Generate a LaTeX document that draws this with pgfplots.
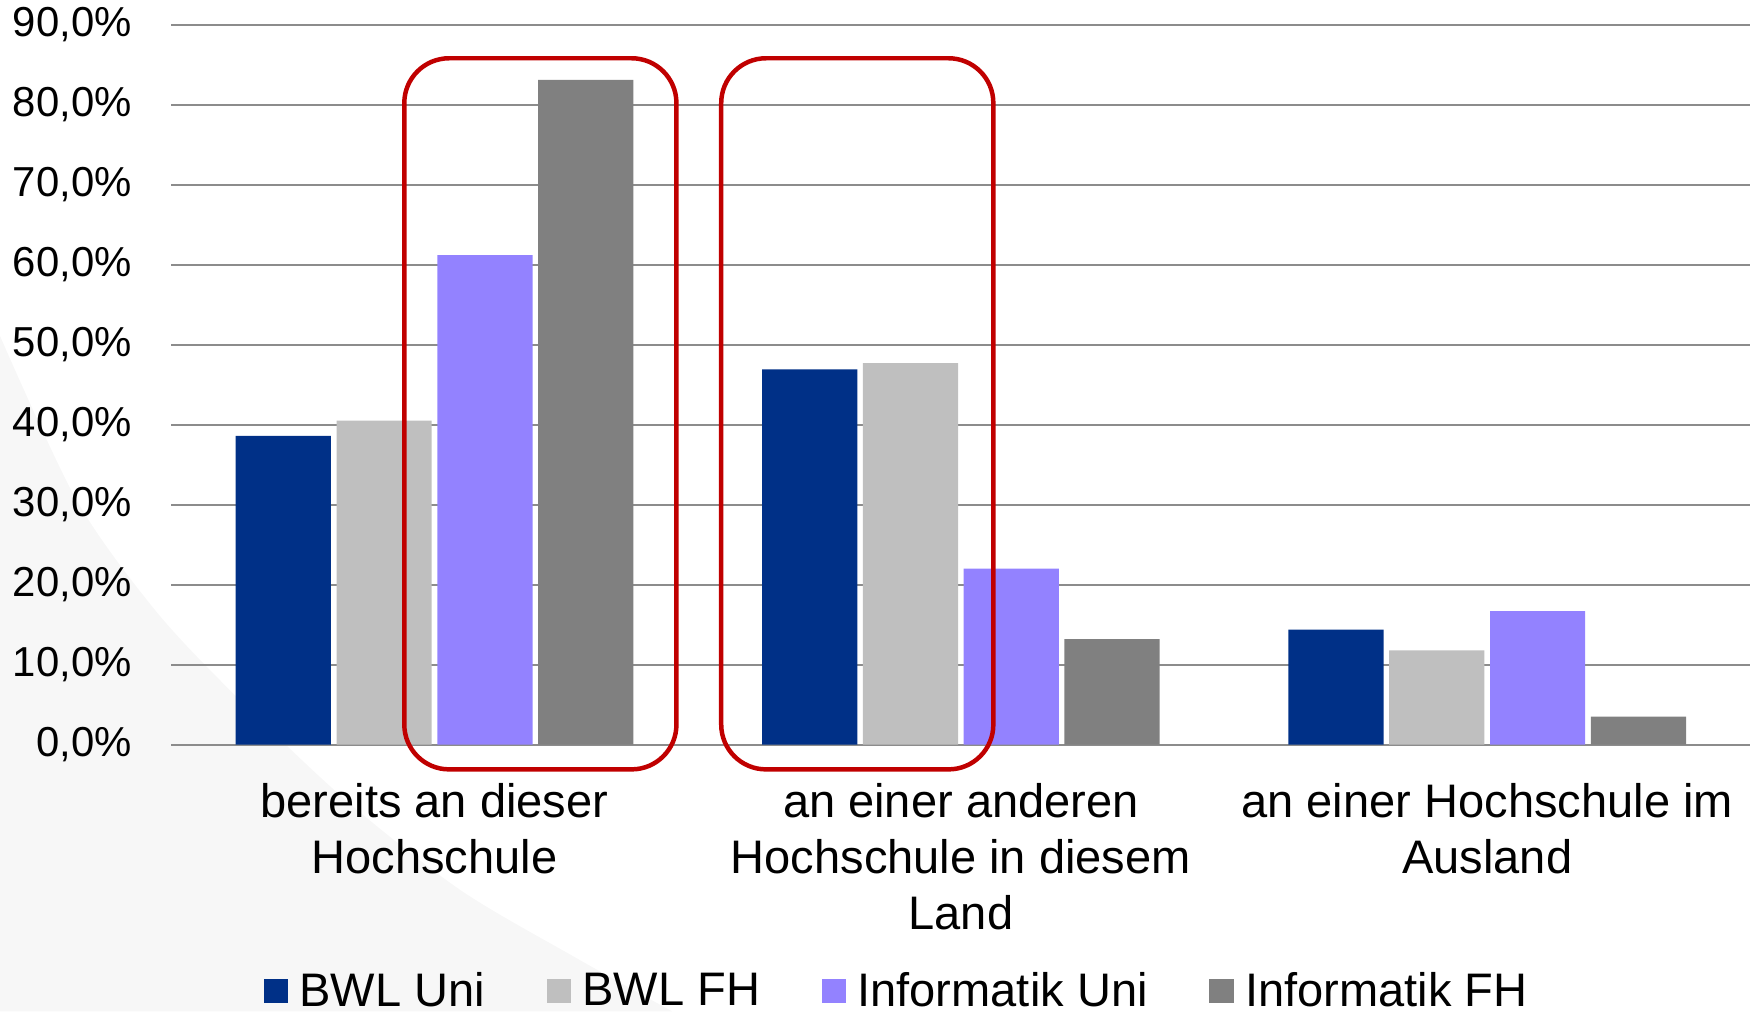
\documentclass[border=0pt]{standalone}
\usepackage{pgfplots}
\pgfplotsset{compat=1.18}
\usepackage{fontspec}
\setmainfont{Liberation Sans}
\definecolor{bwluni}{HTML}{003087}
\definecolor{bwlfh}{HTML}{BFBFBF}
\definecolor{infuni}{HTML}{9382FF}
\definecolor{inffh}{HTML}{808080}
\definecolor{gridgray}{HTML}{8C8C8C}
\definecolor{hilite}{HTML}{C00000}
\definecolor{bggray}{HTML}{F7F7F7}

\begin{document}
\begin{tikzpicture}
\useasboundingbox (-76.5pt,-119pt) rectangle (707.5pt,332.5pt);
% faint slide background in the lower left corner
\fill[bggray] plot[smooth] coordinates {(-76.5pt,182.5pt) (-42.5pt,109.5pt) (-8pt,61pt) (26pt,24.5pt)
  (77pt,-24pt) (128.5pt,-64.5pt) (179.5pt,-94.5pt) (223.5pt,-119pt)} -- (-76.5pt,-119pt) -- cycle;
\begin{axis}[
    scale only axis,
    width=705pt, height=321.5pt,
    ybar=2.5pt, bar width=42.5pt,
    xmin=-0.5, xmax=2.5, ymin=0, ymax=90,
    enlargelimits=false,
    xtick={0,1,2},
    xticklabels={bereits an dieser\\Hochschule, an einer anderen\\Hochschule in diesem\\Land, an einer Hochschule im\\Ausland},
    xticklabel style={font=\fontsize{21}{25}\selectfont, align=center, anchor=north, inner sep=0pt, yshift=-17pt},
    ytick={0,10,...,90},
    yticklabel={\pgfmathprintnumber[fixed, fixed zerofill, precision=1, use comma, assume math mode=true]{\tick}\%},
    yticklabel style={font=\fontsize{18.7}{22}\selectfont, anchor=east, inner sep=0pt, xshift=-17.5pt},
    ymajorgrids,
    grid style={gridgray, line width=1pt},
    axis line style={draw=none},
    major tick length=0pt,
    clip=false,
    legend columns=4,
    legend image code/.code={\fill[#1] (0pt,-5.5pt) rectangle (11pt,5.5pt);},
    legend style={
        at={(0.460,-0.342)}, anchor=center,
        draw=none, fill=none, inner sep=0pt,
        font=\fontsize{21}{25}\selectfont,
        cells={anchor=west, inner sep=0pt},
        /tikz/every odd column/.append style={column sep=3pt},
        /tikz/every even column/.append style={column sep=25.5pt}
    }
]
\addplot[fill=bwluni, draw=none] coordinates {(0,38.6) (1,46.9) (2,14.4)};
\addplot[fill=bwlfh, draw=none] coordinates {(0,40.5) (1,47.7) (2,11.8)};
\addplot[fill=infuni, draw=none] coordinates {(0,61.2) (1,22.0) (2,16.7)};
\addplot[fill=inffh, draw=none] coordinates {(0,83.1) (1,13.2) (2,3.5)};
\legend{BWL Uni, BWL FH, Informatik Uni, Informatik FH}
\draw[hilite, line width=2pt, rounded corners=20pt] (axis cs:-0.0574,-3.08) rectangle (axis cs:0.4596,85.8);
\draw[hilite, line width=2pt, rounded corners=20pt] (axis cs:0.5447,-3.08) rectangle (axis cs:1.0617,85.8);
\end{axis}
\end{tikzpicture}
\end{document}
